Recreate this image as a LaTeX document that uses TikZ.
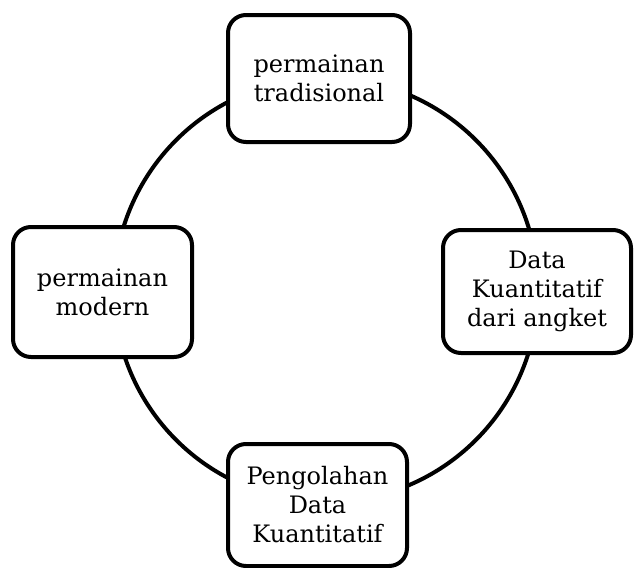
\documentclass[tikz,border=0pt]{standalone}
\usepackage{fontspec}
\setmainfont{DejaVu Serif}
\begin{document}
\begin{tikzpicture}[x=1pt,y=-1pt,
  box/.style={draw=black,line width=4pt,rounded corners=18pt,fill=white,align=center,
    font=\fontsize{24}{29}\selectfont,inner sep=0pt}]
\useasboundingbox (0,0) rectangle (635,568);
\draw[line width=4pt] (326,290) circle[radius=212];
\node[box,minimum width=182pt,minimum height=127pt] (top) at (319,78.5) {permainan\\tradisional};
\node[box,minimum width=188pt,minimum height=123pt] (right) at (537,291.5) {Data\\Kuantitatif\\dari angket};
\node[box,minimum width=179pt,minimum height=122pt] (bottom) at (317.5,505) {Pengolahan\\Data\\Kuantitatif};
\node[box,minimum width=179pt,minimum height=130pt] (left) at (102.5,292) {permainan\\modern};
\end{tikzpicture}
\end{document}
